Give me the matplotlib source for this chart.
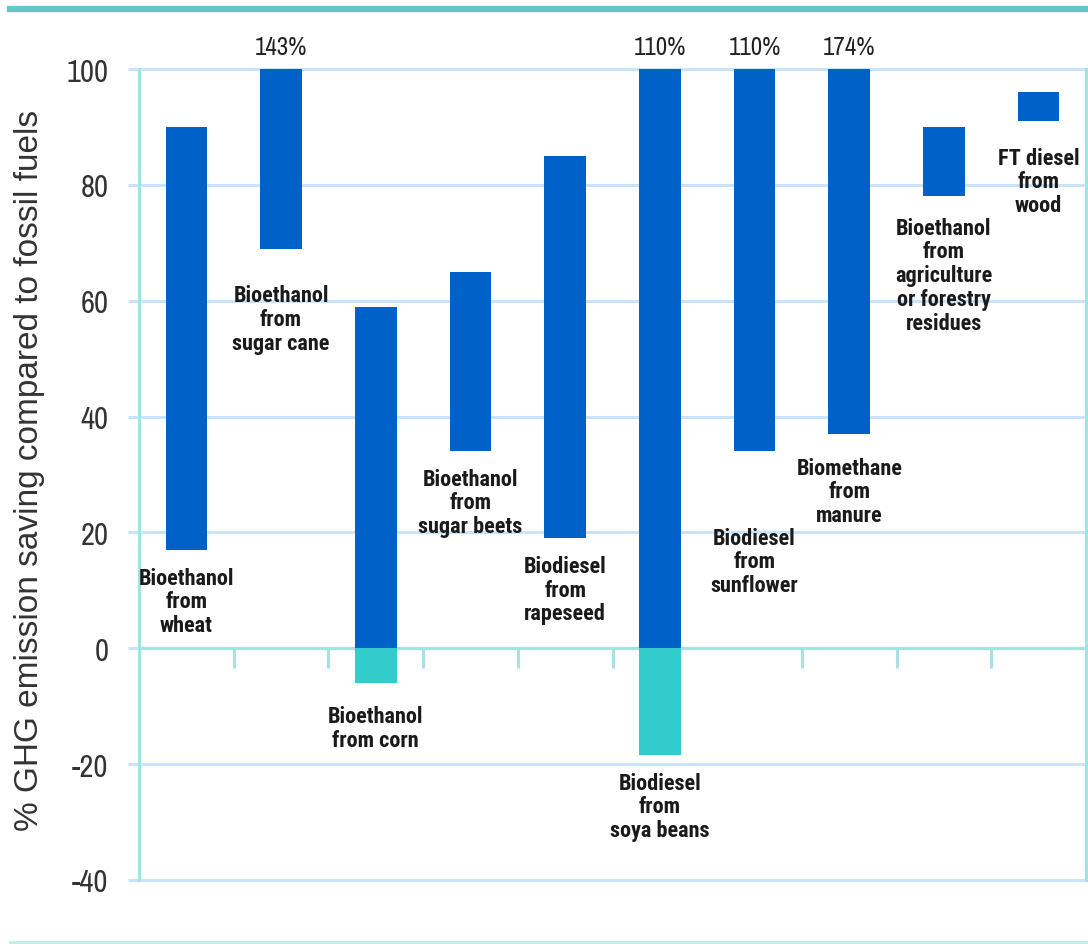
import matplotlib
matplotlib.use("Agg")
import matplotlib.pyplot as plt
from matplotlib import font_manager
from matplotlib.lines import Line2D
import logging
logging.getLogger("matplotlib.font_manager").setLevel(logging.ERROR)

# ---- data ----
categories = [
    "Bioethanol\nfrom\nwheat",
    "Bioethanol\nfrom\nsugar cane",
    "Bioethanol\nfrom corn",
    "Bioethanol\nfrom\nsugar beets",
    "Biodiesel\nfrom\nrapeseed",
    "Biodiesel\nfrom\nsoya beans",
    "Biodiesel\nfrom\nsunflower",
    "Biomethane\nfrom\nmanure",
    "Bioethanol\nfrom\nagriculture\nor forestry\nresidues",
    "FT diesel\nfrom\nwood",
]
low_values = [17, 69, -6, 34, 19, -18.5, 34, 37, 78, 91]
high_values = [90, 143, 59, 65, 85, 110, 110, 174, 90, 96]
label_y = [14.1, 62.8, -9.8, 31.2, 16.1, -21.3, 21.0, 33.1, 74.5, 86.6]
y_ticks = [-40, -20, 0, 20, 40, 60, 80, 100]
y_label = "% GHG emission saving compared to fossil fuels"

# ---- style ----
BLUE = "#0062C9"
TEAL_BAR = "#33CCCC"
GRID = "#C9E3FB"
TEAL_LINE = "#A6E2E2"

names = {f.name for f in font_manager.fontManager.ttflist}
narrow = "Archivo Narrow" if "Archivo Narrow" in names else "Liberation Sans"
bold_candidates = ["Roboto Condensed", "Asap Condensed", "Liberation Sans"]
bold_narrow = next(n for n in bold_candidates if n in names)
regular = "Liberation Sans" if "Liberation Sans" in names else "DejaVu Sans"

fig = plt.figure(figsize=(10.88, 9.45), dpi=100)
ax = fig.add_axes([139 / 1088, 1 - 881 / 945, (1086 - 139) / 1088, (881 - 70) / 945])

YMIN, YMAX = -40, 100
ax.set_ylim(YMIN, YMAX)
ax.set_xlim(-0.5, len(categories) - 0.5)

for t in y_ticks:
    if t != 0:
        ax.axhline(t, color=GRID, lw=2.2, zorder=1, clip_on=False)
ax.axhline(0, color=TEAL_LINE, lw=2.4, zorder=1)

px_per_unit = (881 - 70) / (YMAX - YMIN)
tick_len = 20 / px_per_unit
for i in range(1, len(categories)):
    if i == 6:
        continue
    ax.plot([i - 0.5, i - 0.5], [0, -tick_len], color=TEAL_LINE, lw=2.2, zorder=1,
            solid_capstyle="butt")

width = 0.44
for i, (lo, hi) in enumerate(zip(low_values, high_values)):
    top = min(hi, YMAX)
    pos_bottom = max(lo, 0)
    if top > pos_bottom:
        ax.bar(i, top - pos_bottom, bottom=pos_bottom, width=width, color=BLUE, zorder=3)
    if lo < 0:
        ax.bar(i, -lo, bottom=lo, width=width, color=TEAL_BAR, zorder=3)
    if hi > YMAX:
        ax.annotate(f"{hi}%", xy=(i, YMAX), xytext=(0, 11), textcoords="offset points",
                    ha="center", va="baseline", fontsize=18, family=narrow,
                    color="#222222", annotation_clip=False)
    ax.text(i, label_y[i], categories[i], ha="center", va="top",
            fontsize=16, family=bold_narrow, fontweight="bold", color="#1a1a1a",
            linespacing=1.1, zorder=4)

for s in ["top", "bottom"]:
    ax.spines[s].set_visible(False)
for s in ["left", "right"]:
    ax.spines[s].set_color(TEAL_LINE)
    ax.spines[s].set_linewidth(2.2)

ax.set_xticks([])
ax.set_yticks(y_ticks)
ax.set_yticklabels([str(t) for t in y_ticks], family=narrow, fontsize=22, color="#333333")
ax.tick_params(axis="y", length=8, width=2.2, color=GRID, pad=14)

fig.text(30 / 1088, 1 - 470 / 945, y_label, rotation=90, ha="center", va="center",
         fontsize=24, family=regular, color="#333333")

fig.add_artist(Line2D([10 / 1088, 1.0], [1 - 10 / 945, 1 - 10 / 945],
                      transform=fig.transFigure, color="#63C7C7", lw=4.5))
fig.add_artist(Line2D([10 / 1088, 1.0], [1 - 943 / 945, 1 - 943 / 945],
                      transform=fig.transFigure, color="#BFEDED", lw=2))

fig.savefig("out.png", dpi=100)
